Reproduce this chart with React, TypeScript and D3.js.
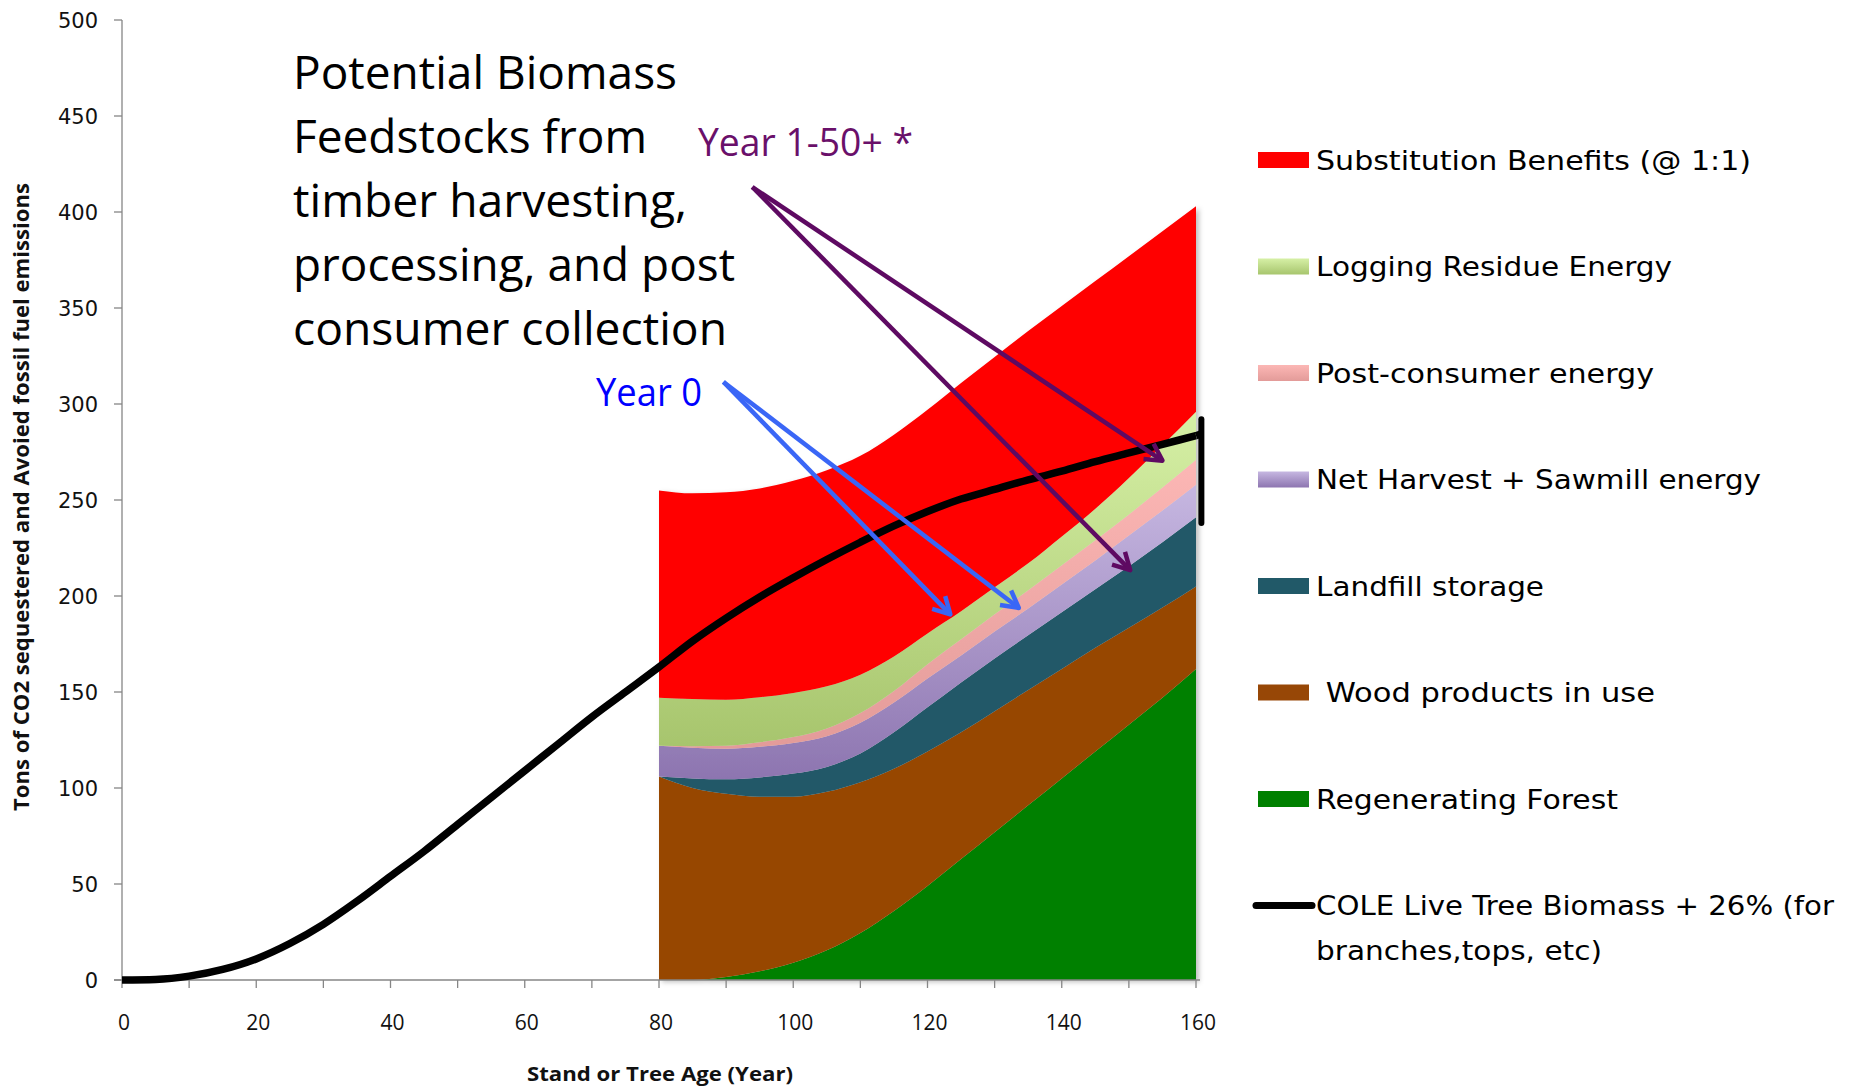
import React, { useMemo } from 'react';
import * as d3 from 'd3';

// stand age (years) for the post-harvest pools
const years = [80, 85, 90, 95, 100, 105, 110, 115, 120, 125, 130, 135, 140, 145, 150, 155, 160];

// stacked pools, bottom to top (tons CO2)
const regeneratingForest = [0, 0, 1.5, 4.5, 9, 15.5, 24.5, 36, 49, 63, 77, 91, 105, 119, 133, 147, 162];
const woodProducts = [106, 100, 95.5, 91, 86.5, 82.5, 78.5, 74, 70, 66, 63, 60, 57, 54, 50.5, 47, 43];
const landfillStorage = [0, 5, 7.5, 10, 12, 13, 15, 19, 23, 26, 27.5, 28.5, 29.5, 30.5, 32, 34, 36];
const netHarvestSawmill = [16, 16, 16, 16, 16, 16, 16, 15.5, 15, 14, 14, 14, 14.5, 15, 16, 16.5, 17];
const postConsumer = [0, 0.8, 1.5, 2.3, 3, 4, 5, 6, 7.5, 8.5, 9, 9.5, 10, 10.5, 11, 12, 13];
const loggingResidue = [25, 24.5, 24, 23.5, 23, 22, 20, 18, 16, 14.5, 14, 14, 15, 16.5, 19, 22, 25];
const substitution = [108, 107.2, 108, 108.7, 110.5, 112.5, 114, 115.5, 116.5, 119, 120, 121, 120, 118.5, 115.5, 111.5, 107];

// COLE live tree biomass + 26%
const coleYears = [0, 5, 10, 15, 20, 25, 30, 35, 40, 45, 50, 55, 60, 65, 70, 75, 80, 85, 90, 95, 100,
  105, 110, 115, 120, 125, 130, 135, 140, 145, 150, 155, 160];
const coleValues = [0, 0.3, 2, 5.5, 11, 19, 29, 41, 54, 67, 81, 95, 109, 123, 137, 150, 163, 176.5, 188.5, 199.5, 209.5,
  219, 228, 236.5, 244, 250.5, 255.5, 260.5, 265, 270, 274.5, 279, 283.5];
const coleEndYear = 160.8;
const coleEndRange = [292, 238];

const yTicks = [0, 50, 100, 150, 200, 250, 300, 350, 400, 450, 500];
const xTickLabels = [0, 20, 40, 60, 80, 100, 120, 140, 160];
const xMinorTicks = [0, 10, 20, 30, 40, 50, 60, 70, 80, 90, 100, 110, 120, 130, 140, 150, 160];

const seriesKeys = ['regen', 'wood', 'landfill', 'net', 'post', 'logging', 'subst'];
const seriesValues = [regeneratingForest, woodProducts, landfillStorage, netHarvestSawmill, postConsumer, loggingResidue, substitution];
const seriesFills = ['#008000', '#974706', '#215968', 'url(#gradNet)', 'url(#gradPost)', 'url(#gradLog)', '#ff0000'];

const legendLabels = ['Substitution Benefits (@ 1:1)', 'Logging Residue Energy', 'Post-consumer energy',
  'Net Harvest + Sawmill energy', 'Landfill storage', ' Wood products in use', 'Regenerating Forest'];
const legendFills = ['#ff0000', 'url(#gradLog)', 'url(#gradPost)', 'url(#gradNet)', '#215968', '#974706', '#008000'];
const legendWidths = [435, 356, 338, 445, 228, 339, 302];
const coleLegend = ['COLE Live Tree Biomass + 26% (for', 'branches,tops, etc)'];
const coleLegendWidths = [518, 286];

const titleLines = ['Potential Biomass', 'Feedstocks from', 'timber harvesting,', 'processing, and post', 'consumer collection'];
const titleWidths = [384, 354, 394, 442, 434];

// annotation arrows in data units [year, tons]
const year0From = [89.6, 311.5];
const year0To = [[123.4, 190.4], [133.6, 193.8]];
const laterFrom = [93.9, 413];
const laterTo = [[155, 270.5], [150.2, 213.5]];

const W = 1856;
const H = 1088;

const Arrow: React.FC<{ x1: number; y1: number; x2: number; y2: number; color: string }> = ({ x1, y1, x2, y2, color }) => {
  const ang = Math.atan2(y2 - y1, x2 - x1);
  const len = 19;
  const spread = 0.5;
  const a = [x2 - len * Math.cos(ang - spread), y2 - len * Math.sin(ang - spread)];
  const b = [x2 - len * Math.cos(ang + spread), y2 - len * Math.sin(ang + spread)];
  return (
    <g stroke={color} strokeWidth={4.5} fill="none" strokeLinejoin="round">
      <line x1={x1} y1={y1} x2={x2} y2={y2} />
      <polyline points={`${a[0]},${a[1]} ${x2},${y2} ${b[0]},${b[1]}`} />
    </g>
  );
};

const App: React.FC = () => {
  const x = d3.scaleLinear().domain([0, 160]).range([122, 1196]);
  const y = d3.scaleLinear().domain([0, 500]).range([980, 20]);

  const stacked = useMemo(() => {
    const rows = years.map((yr, i) => {
      const r: Record<string, number> = { year: yr };
      seriesKeys.forEach((k, j) => { r[k] = seriesValues[j][i]; });
      return r;
    });
    return d3.stack<Record<string, number>>().keys(seriesKeys)(rows);
  }, []);

  const area = d3.area<d3.SeriesPoint<Record<string, number>>>()
    .x(d => x(d.data.year))
    .y0(d => y(d[0]))
    .y1(d => y(d[1]))
    .curve(d3.curveMonotoneX);

  const colePts = coleYears.map((yr, i) => [yr, coleValues[i]] as [number, number]);
  const coleLine = d3.line<[number, number]>()
    .x(d => x(d[0]))
    .y(d => y(d[1]))
    .curve(d3.curveMonotoneX);

  const legendY = d3.scaleLinear().domain([0, 1]).range([160, 266.5]);
  const lastCole = coleValues[coleValues.length - 1];

  return (
    <svg width={W} height={H} style={{ position: 'absolute', left: 0, top: 0, background: '#fff' }}>
      <defs>
        <linearGradient id="gradLog" x1="0" y1="0" x2="0" y2="1">
          <stop offset="0" stopColor="#d6f0a6" />
          <stop offset="1" stopColor="#a7c56d" />
        </linearGradient>
        <linearGradient id="gradPost" x1="0" y1="0" x2="0" y2="1">
          <stop offset="0" stopColor="#fcb7b5" />
          <stop offset="1" stopColor="#e39b99" />
        </linearGradient>
        <linearGradient id="gradNet" x1="0" y1="0" x2="0" y2="1">
          <stop offset="0" stopColor="#c6b7e1" />
          <stop offset="1" stopColor="#8d75b0" />
        </linearGradient>
        <filter id="shadow" x="-5%" y="-5%" width="115%" height="115%">
          <feDropShadow dx="3" dy="2" stdDeviation="2.5" floodColor="#000" floodOpacity="0.25" />
        </filter>
      </defs>

      {/* stacked pools */}
      <g filter="url(#shadow)">
        {stacked.map((s, i) => (
          <path key={s.key} d={area(s) || ''} fill={seriesFills[i]} />
        ))}
      </g>

      {/* axes */}
      <g stroke="#868686" strokeWidth={1.3}>
        <line x1={x(0)} y1={y(0)} x2={x(0)} y2={y(500)} />
        <line x1={x(0) - 8} y1={y(0)} x2={x(160) + 4} y2={y(0)} />
        {yTicks.map(t => <line key={t} x1={x(0) - 8} x2={x(0)} y1={y(t)} y2={y(t)} />)}
        {xMinorTicks.map(t => <line key={t} x1={x(t)} x2={x(t)} y1={y(0)} y2={y(0) + 8} />)}
      </g>
      <g fontFamily="'DejaVu Sans', sans-serif" fontSize={21} fill="#111" textAnchor="end">
        {yTicks.map(t => <text key={t} x={98} y={y(t) + 7.5}>{t}</text>)}
      </g>
      <g fontFamily="'Open Sans', sans-serif" fontSize={21} fill="#111" textAnchor="middle">
        {xTickLabels.map(t => <text key={t} x={x(t) + 2} y={1030}>{t}</text>)}
      </g>
      <text x={660} y={1081} textAnchor="middle" fontFamily="'Open Sans', sans-serif" fontWeight="bold" fontSize={20}
        textLength={266} lengthAdjust="spacingAndGlyphs" fill="#111">Stand or Tree Age (Year)</text>
      <text transform="translate(29, 497) rotate(-90)" textAnchor="middle" fontFamily="'Open Sans', sans-serif" fontWeight="bold"
        fontSize={21} textLength={628} lengthAdjust="spacingAndGlyphs" fill="#111">
        Tons of CO2 sequestered and Avoied fossil fuel emissions
      </text>

      {/* COLE line */}
      <path d={coleLine(colePts) || ''} fill="none" stroke="#000" strokeWidth={7.5} strokeLinejoin="round" />
      <line x1={x(coleEndYear)} x2={x(coleEndYear)} y1={y(coleEndRange[0])} y2={y(coleEndRange[1])}
        stroke="#000" strokeWidth={6} strokeLinecap="round" />
      <line x1={x(160)} x2={x(coleEndYear)} y1={y(lastCole)} y2={y(lastCole + 1)} stroke="#000" strokeWidth={7.5} />

      {/* annotation */}
      <g fontFamily="'Open Sans', sans-serif" fontSize={46} fill="#000">
        {titleLines.map((t, i) => (
          <text key={t} x={293} y={89 + i * 64} textLength={titleWidths[i]} lengthAdjust="spacingAndGlyphs">{t}</text>
        ))}
      </g>
      <text x={698} y={156} fontFamily="'Open Sans', sans-serif" fontSize={38} fill="#6a106a"
        textLength={215} lengthAdjust="spacingAndGlyphs">Year 1-50+ *</text>
      <text x={596} y={406} fontFamily="'Open Sans', sans-serif" fontSize={38} fill="#0000ff"
        textLength={106} lengthAdjust="spacingAndGlyphs">Year 0</text>

      {laterTo.map((p, i) => (
        <Arrow key={`l${i}`} x1={x(laterFrom[0])} y1={y(laterFrom[1])} x2={x(p[0])} y2={y(p[1])} color="#5e0a62" />
      ))}
      {year0To.map((p, i) => (
        <Arrow key={`b${i}`} x1={x(year0From[0])} y1={y(year0From[1])} x2={x(p[0])} y2={y(p[1])} color="#3a66f6" />
      ))}

      {/* legend */}
      <g fontFamily="'DejaVu Sans', sans-serif" fontSize={26} fill="#000">
        {legendLabels.map((l, i) => (
          <g key={l}>
            <rect x={1258} y={legendY(i) - 8} width={51} height={16} fill={legendFills[i]} />
            <text x={1316} y={legendY(i) + 9.5} textLength={legendWidths[i]} lengthAdjust="spacingAndGlyphs"
              style={{ whiteSpace: 'pre' }}>{l}</text>
          </g>
        ))}
        <line x1={1256} x2={1312} y1={legendY(7)} y2={legendY(7)} stroke="#000" strokeWidth={7} strokeLinecap="round" />
        {coleLegend.map((l, i) => (
          <text key={l} x={1316} y={legendY(7) + 9.5 + i * 45} textLength={coleLegendWidths[i]} lengthAdjust="spacingAndGlyphs">{l}</text>
        ))}
      </g>
    </svg>
  );
};

export default App;
